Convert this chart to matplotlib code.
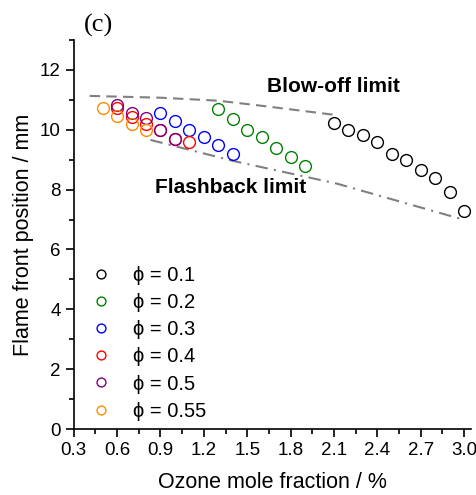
import matplotlib
matplotlib.use("Agg")
import matplotlib.pyplot as plt
from matplotlib.ticker import MultipleLocator

plt.rcParams['font.family'] = ['Liberation Sans', 'DejaVu Sans']

# data
x_01 = [2.1, 2.2, 2.3, 2.4, 2.5, 2.6, 2.7, 2.8, 2.9, 3.0]
y_01 = [10.21, 9.99, 9.81, 9.59, 9.19, 8.98, 8.67, 8.4, 7.91, 7.3]
x_02 = [1.3, 1.4, 1.5, 1.6, 1.7, 1.8, 1.9]
y_02 = [10.68, 10.37, 9.98, 9.76, 9.4, 9.1, 8.8]
x_03 = [0.9, 1.0, 1.1, 1.2, 1.3, 1.4]
y_03 = [10.56, 10.29, 9.98, 9.76, 9.5, 9.19]
x_04 = [0.6, 0.7, 0.8, 0.9, 1.0, 1.1]
y_04 = [10.72, 10.43, 10.2, 9.98, 9.7, 9.58]
x_05 = [0.6, 0.7, 0.8, 0.9, 1.0]
y_05 = [10.82, 10.55, 10.39, 9.99, 9.68]
x_055 = [0.5, 0.6, 0.7, 0.8]
y_055 = [10.72, 10.47, 10.2, 9.98]

blowoff_x = [0.41, 0.9, 1.3, 1.6, 2.1]
blowoff_y = [11.13, 11.07, 10.97, 10.8, 10.5]
flash_x = [0.83, 1.41, 2.12, 3.0]
flash_y = [9.66, 8.95, 8.2, 6.99]

series = [
    (x_01, y_01, 'black', '0.1'),
    (x_02, y_02, 'green', '0.2'),
    (x_03, y_03, 'blue', '0.3'),
    (x_04, y_04, 'red', '0.4'),
    (x_05, y_05, 'purple', '0.5'),
    (x_055, y_055, '#ff8c00', '0.55'),
]

fig = plt.figure(figsize=(4.76, 4.95), dpi=100)
ax = fig.add_axes([0.155, 0.1333, 0.835, 0.786])

ax.plot(blowoff_x, blowoff_y, color='grey', linestyle=(0, (5, 3)), linewidth=1.5)
ax.plot(flash_x, flash_y, color='grey', linestyle=(0, (6, 3, 1, 3)), linewidth=1.5)

for xs, ys, c, lab in series:
    ax.plot(xs, ys, linestyle='none', marker='o', markersize=8.5,
            markerfacecolor='none', markeredgecolor=c, markeredgewidth=1.0,
            label='\u03d5 = ' + lab)

ax.text(2.1, 11.45, 'Blow-off limit', fontsize=15, fontweight='bold', ha='center', va='center')
ax.text(0.86, 8.08, 'Flashback limit', fontsize=15, fontweight='bold', ha='left', va='center')
fig.text(0.207, 0.948, '(c)', fontsize=19, family='Liberation Serif', ha='center', va='center')

ax.set_xlim(0.3, 3.05)
ax.set_ylim(0, 13)
ax.xaxis.set_minor_locator(MultipleLocator(0.15))
ax.yaxis.set_minor_locator(MultipleLocator(1))
ax.set_xticks([0.3, 0.6, 0.9, 1.2, 1.5, 1.8, 2.1, 2.4, 2.7, 3.0])
ax.set_xticklabels(['0.3', '0.6', '0.9', '1.2', '1.5', '1.8', '2.1', '2.4', '2.7', '3.0'])
ax.set_yticks([0, 2, 4, 6, 8, 10, 12])
ax.tick_params(which='major', direction='out', length=6, width=1.2, labelsize=13.5)
ax.tick_params(which='minor', direction='out', length=3.5, width=1.2)
for s in ['top', 'right']:
    ax.spines[s].set_visible(False)
for s in ['left', 'bottom']:
    ax.spines[s].set_linewidth(1.2)

ax.set_xlabel('Ozone mole fraction / %', fontsize=15.5, labelpad=9)
ax.set_ylabel('Flame front position / mm', fontsize=15.5, labelpad=4)

ax.legend(loc='lower left', bbox_to_anchor=(-0.015, -0.012), frameon=False, fontsize=14.5,
          markerscale=0.75, handletextpad=0.6, labelspacing=0.4, borderaxespad=0.25)

fig.savefig('out.png', dpi=100)
